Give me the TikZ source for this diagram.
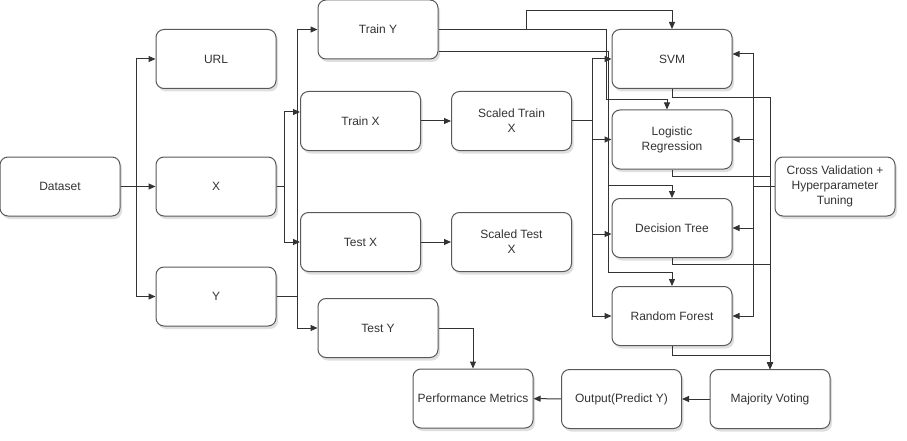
\documentclass[tikz,border=0pt]{standalone}
\usepackage{fontspec}
\setmainfont{Liberation Sans}
\usetikzlibrary{arrows.meta,shadows}

\begin{document}
\begin{tikzpicture}[x=1pt, y=-1pt, line width=1pt,
  box/.style={draw=black!65, fill=white, rounded corners=8pt, minimum width=120pt, minimum height=59pt,
    align=center, text=black!80, font=\fontsize{12}{15}\selectfont,
    drop shadow={shadow xshift=2pt, shadow yshift=-3pt, fill=black!25, opacity=0.5}},
  arr/.style={draw=black!80, -{Triangle[length=7pt, width=6pt]}}]
  \useasboundingbox (0,0) rectangle (907,441);
  \node[box] (dataset) at (60,186.5) {Dataset};
  \node[box] (url) at (216,59) {URL};
  \node[box] (x) at (216,186.5) {X};
  \node[box] (y) at (216,296.5) {Y};
  \node[box] (trainy) at (378,29.5) {Train Y};
  \node[box] (trainx) at (360.5,121) {Train X};
  \node[box] (testx) at (360.5,242) {Test X};
  \node[box] (testy) at (378,328) {Test Y};
  \node[box] (strainx) at (511.5,121) {Scaled Train\\X};
  \node[box] (stestx) at (511.5,242) {Scaled Test\\X};
  \node[box] (svm) at (672,59) {SVM};
  \node[box] (lr) at (672,139.5) {Logistic\\Regression};
  \node[box] (dt) at (672,228) {Decision Tree};
  \node[box] (rf) at (672,316) {Random Forest};
  \node[box] (cv) at (835,186.5) {Cross Validation +\\Hyperparameter\\Tuning};
  \node[box] (vote) at (770,399) {Majority Voting};
  \node[box] (output) at (621.5,399) {Output(Predict Y)};
  \node[box] (perf) at (473,398.5) {Performance Metrics};

  \draw[arr] (dataset.east) -- ++(16,0) |- (url);
  \draw[arr] (dataset) -- (x);
  \draw[arr] (dataset.east) -- ++(16,0) |- (y);
  \draw[arr] (x.east) -- ++(8,0) |- ([yshift=9pt]trainx.west);
  \draw[arr] (x.east) -- ++(8,0) |- (testx);
  \draw[arr] (y.east) -- ++(21,0) |- (trainy);
  \draw[arr] (y.east) -- ++(21,0) |- (testy);
  \draw[arr] (trainx) -- (strainx);
  \draw[arr] (testx) -- (stestx);

  \draw[arr] (strainx.east) -- ++(20,0) |- (svm);
  \draw[arr] (strainx.east) -- ++(20,0) |- (lr);
  \draw[arr] (strainx.east) -- ++(20,0) |- ([yshift=-6pt]dt.west);
  \draw[arr] (strainx.east) -- ++(20,0) |- (rf);

  \draw[arr] (trainy.east) -- ++(88,0) -- ++(0,-19) -| (svm.north);
  \draw[arr] (trainy.east) -- ++(168,0) -- ++(0,70) -| ([xshift=-5pt]lr.north);
  \draw[arr] ([yshift=-22pt]trainy.east) -- ++(170,0) -- ++(0,134) -| (dt.north);
  \draw[arr] ([yshift=-22pt]trainy.east) -- ++(170,0) -- ++(0,221) -| (rf.north);

  \draw[arr] (cv.west) -- ++(-21,0) |- ([yshift=5pt]svm.east);
  \draw[arr] (cv.west) -- ++(-21,0) |- (lr);
  \draw[arr] (cv.west) -- ++(-21,0) |- (dt);
  \draw[arr] (cv.west) -- ++(-21,0) |- (rf);

  \draw[arr] (svm.south) -- ++(0,9) -| (vote.north);
  \draw[arr] (lr.south) -- ++(0,7) -| (vote.north);
  \draw[arr] (dt.south) -- ++(0,6) -| (vote.north);
  \draw[arr] (rf.south) -- ++(0,9) -| (vote.north);

  \draw[arr] (vote) -- (output);
  \draw[arr] (output) -- (perf);
  \draw[arr] (testy.east) -| (perf.north);
\end{tikzpicture}
\end{document}
